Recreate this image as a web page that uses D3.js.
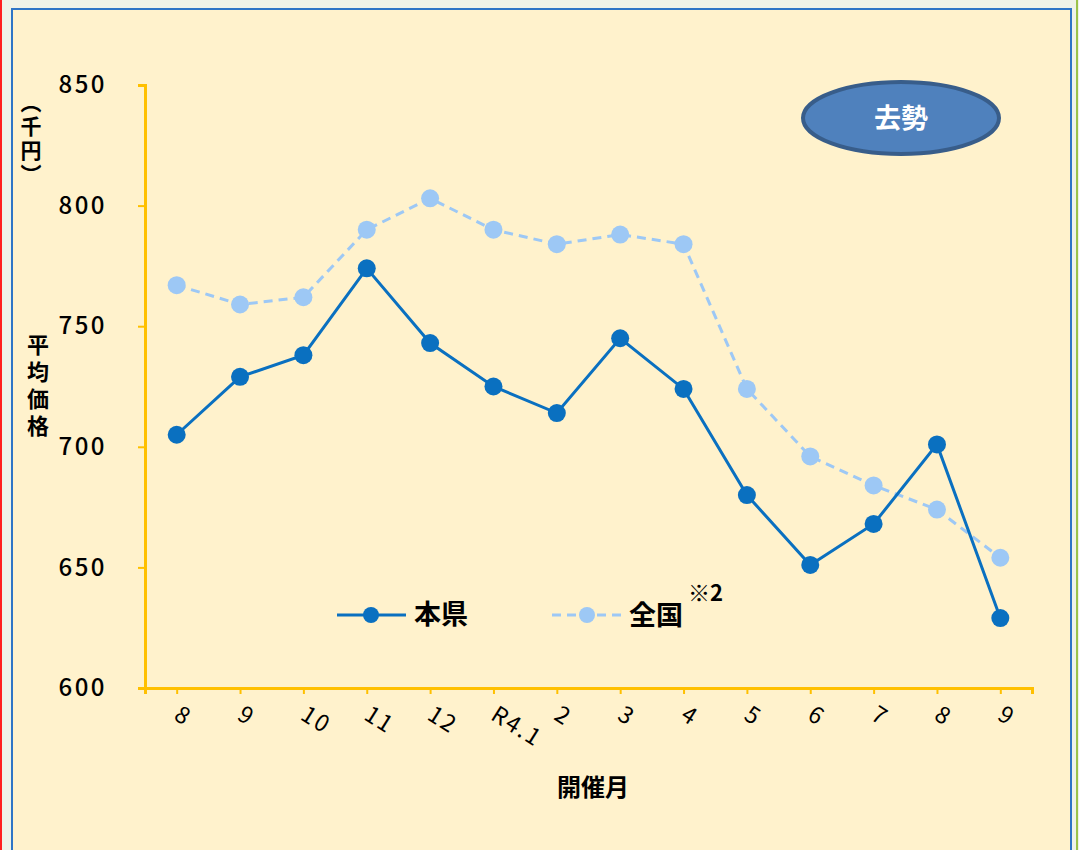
<!DOCTYPE html>
<html lang="ja">
<head>
<meta charset="UTF-8">
<script src="https://d3js.org/d3.v7.min.js"></script>
<style>
  html, body { margin: 0; padding: 0; background: #eff3e8; }
  svg { display: block; }
  text { font-family: "Noto Sans CJK JP", "Noto Sans", sans-serif; }
</style>
</head>
<body>
<script>
// chart data
const months = ["8", "9", "10", "11", "12", "R4.1", "2", "3", "4", "5", "6", "7", "8", "9"];
const honken = [705, 729, 738, 774, 743, 725, 714, 745, 724, 680, 651, 668, 701, 629];
const zenkoku = [767, 759, 762, 790, 803, 790, 784, 788, 784, 724, 696, 684, 674, 654];
const yTicks = [600, 650, 700, 750, 800, 850];

const w = 1079, h = 850;
const plotL = 145, plotR = 1032, plotT = 85, plotB = 688;

const svg = d3.select("body").append("svg")
  .attr("width", w)
  .attr("height", h);

// frame
svg.append("rect").attr("x", 0).attr("y", 0).attr("width", 2).attr("height", h).attr("fill", "#ff2020");
svg.append("rect").attr("x", 1076).attr("y", 0).attr("width", 2).attr("height", h).attr("fill", "#9bc34a");
svg.append("rect")
  .attr("x", 12).attr("y", 9).attr("width", 1059).attr("height", 845)
  .attr("fill", "#fff2cc")
  .attr("stroke", "#2e75c6")
  .attr("stroke-width", 2);

// scales
const x = d3.scalePoint().domain(d3.range(months.length)).range([plotL, plotR]).padding(0.5);
const y = d3.scaleLinear().domain([600, 850]).range([plotB, plotT]);

const axisColor = "#ffc000";

// y axis
const yAxis = svg.append("g")
  .attr("transform", "translate(" + plotL + ",0)")
  .call(d3.axisLeft(y).tickValues(yTicks).tickSize(7).tickPadding(31));
yAxis.select(".domain").attr("stroke", axisColor).attr("stroke-width", 3);
yAxis.selectAll(".tick line").attr("stroke", axisColor).attr("stroke-width", 2);
yAxis.selectAll(".tick text")
  .attr("font-size", 24)
  .attr("font-weight", 500)
  .attr("fill", "#000")
  .attr("letter-spacing", 2.5);

// x axis
const xAxis = svg.append("g")
  .attr("transform", "translate(0," + plotB + ")")
  .call(d3.axisBottom(x).tickSize(6).tickSizeOuter(6).tickFormat(i => months[i]));
xAxis.select(".domain").attr("stroke", axisColor).attr("stroke-width", 3);
xAxis.selectAll(".tick line").attr("stroke", axisColor).attr("stroke-width", 2);
xAxis.selectAll(".tick text")
  .attr("font-size", 23)
  .attr("fill", "#000")
  .attr("text-anchor", "start")
  .attr("letter-spacing", 2)
  .attr("transform", "translate(4,17) rotate(32)")
  .attr("dy", "0.7em")
  .attr("y", 0);

// lines
const line = (vals) => d3.line().x((d, i) => x(i)).y(d => y(d))(vals);

svg.append("path")
  .attr("d", line(zenkoku))
  .attr("fill", "none")
  .attr("stroke", "#9dc8f5")
  .attr("stroke-width", 3)
  .attr("stroke-dasharray", "9,6");
svg.selectAll(".zk").data(zenkoku).enter().append("circle")
  .attr("class", "zk")
  .attr("cx", (d, i) => x(i))
  .attr("cy", d => y(d))
  .attr("r", 9)
  .attr("fill", "#9dc8f5");

svg.append("path")
  .attr("d", line(honken))
  .attr("fill", "none")
  .attr("stroke", "#0a70c0")
  .attr("stroke-width", 3);
svg.selectAll(".hk").data(honken).enter().append("circle")
  .attr("class", "hk")
  .attr("cx", (d, i) => x(i))
  .attr("cy", d => y(d))
  .attr("r", 9)
  .attr("fill", "#0a70c0");

// legend
const lg = svg.append("g");
lg.append("line").attr("x1", 337).attr("x2", 406).attr("y1", 615).attr("y2", 615)
  .attr("stroke", "#0a70c0").attr("stroke-width", 3);
lg.append("circle").attr("cx", 371).attr("cy", 615).attr("r", 8).attr("fill", "#0a70c0");
lg.append("text").attr("x", 414).attr("y", 624).attr("font-size", 27).attr("font-weight", 700).text("本県");

lg.append("line").attr("x1", 552).attr("x2", 622).attr("y1", 615).attr("y2", 615)
  .attr("stroke", "#9dc8f5").attr("stroke-width", 3).attr("stroke-dasharray", "9,6");
lg.append("circle").attr("cx", 587).attr("cy", 615).attr("r", 8).attr("fill", "#9dc8f5");
lg.append("text").attr("x", 629).attr("y", 625).attr("font-size", 27).attr("font-weight", 700).text("全国");
lg.append("text").attr("x", 688).attr("y", 601).attr("font-size", 22).attr("font-weight", 700).text("※2");

// badge
svg.append("ellipse")
  .attr("cx", 901).attr("cy", 118).attr("rx", 98).attr("ry", 36)
  .attr("fill", "#4f81bd").attr("stroke", "#385d8a").attr("stroke-width", 4);
svg.append("text")
  .attr("x", 901).attr("y", 128).attr("text-anchor", "middle")
  .attr("font-size", 27).attr("font-weight", 700).attr("fill", "#fff")
  .text("去勢");

// axis titles (vertical writing)
svg.append("text")
  .attr("x", 31).attr("y", 92)
  .style("writing-mode", "vertical-rl")
  .attr("font-size", 21).attr("font-weight", 700)
  .attr("letter-spacing", 3)
  .text("（千円）");
svg.append("text")
  .attr("x", 38).attr("y", 334)
  .style("writing-mode", "vertical-rl")
  .attr("font-size", 22).attr("font-weight", 700)
  .attr("letter-spacing", 5)
  .text("平均価格");

svg.append("text")
  .attr("x", 593).attr("y", 796).attr("text-anchor", "middle")
  .attr("font-size", 24).attr("font-weight", 700)
  .text("開催月");
</script>
</body>
</html>
